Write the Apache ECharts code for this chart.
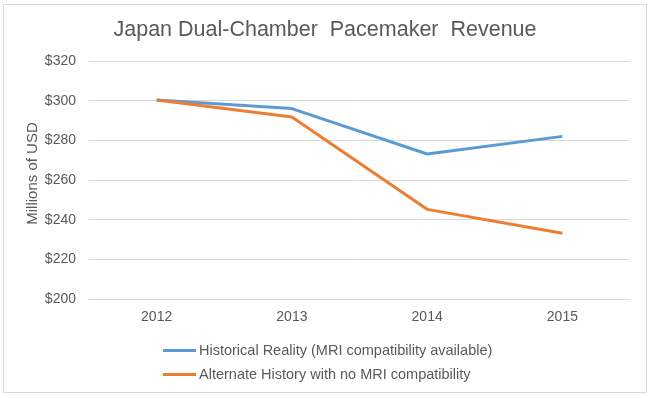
<!DOCTYPE html>
<html>
<head>
<meta charset="utf-8">
<script src="https://cdn.jsdelivr.net/npm/echarts@6/dist/echarts.min.js"></script>
<style>
  html, body { margin: 0; padding: 0; background: #fff; }
  #chart { width: 650px; height: 398px; }
</style>
</head>
<body>
<div id="chart"></div>
<script>
const years = ['2012', '2013', '2014', '2015']
const historical = [300.3, 296.0, 273.1, 282.0]
const alternate = [300.3, 291.8, 245.2, 233.2]
const seriesNames = [
  'Historical Reality (MRI compatibility available)',
  'Alternate History with no MRI compatibility'
]

const chart = echarts.init(document.getElementById('chart'))
chart.setOption({
  animation: false,
  color: ['#5b9bd5', '#ed7d31'],
  textStyle: { fontFamily: 'Liberation Sans, Arial, sans-serif' },
  graphic: [{
    type: 'rect',
    shape: { x: 3.5, y: 4.5, width: 643, height: 388 },
    style: { fill: 'none', stroke: '#d9d9d9', lineWidth: 1 },
    silent: true
  }],
  title: {
    text: 'Japan Dual-Chamber  Pacemaker  Revenue',
    left: 'center',
    top: 14,
    textStyle: { fontSize: 21.5, fontWeight: 'normal', color: '#595959' }
  },
  legend: {
    orient: 'vertical',
    left: 158,
    top: 338,
    icon: 'rect',
    itemWidth: 33,
    itemHeight: 3,
    itemGap: 9,
    textStyle: { fontSize: 14.5, color: '#595959', padding: [0, 0, 0, -2] },
    data: seriesNames
  },
  grid: { left: 89, right: 20, top: 61, bottom: 99 },
  xAxis: {
    type: 'category',
    data: years,
    boundaryGap: true,
    axisLine: { lineStyle: { color: '#d9d9d9' } },
    axisTick: { show: false },
    axisLabel: { color: '#595959', fontSize: 14, margin: 11 }
  },
  yAxis: {
    type: 'value',
    min: 200,
    max: 320,
    interval: 20,
    name: 'Millions of USD',
    nameLocation: 'middle',
    nameGap: 49,
    nameMoveOverlap: false,
    nameTextStyle: { fontSize: 15, color: '#595959', padding: [0, 0, 0, 13] },
    axisLine: { show: false },
    axisTick: { show: false },
    axisLabel: { color: '#595959', fontSize: 14, margin: 13, formatter: v => '$' + v },
    splitLine: { lineStyle: { color: '#d9d9d9' } }
  },
  series: [
    {
      name: seriesNames[0],
      type: 'line',
      data: historical,
      symbol: 'none',
      lineStyle: { width: 3 }
    },
    {
      name: seriesNames[1],
      type: 'line',
      data: alternate,
      symbol: 'none',
      lineStyle: { width: 3 }
    }
  ]
})
</script>
</body>
</html>
